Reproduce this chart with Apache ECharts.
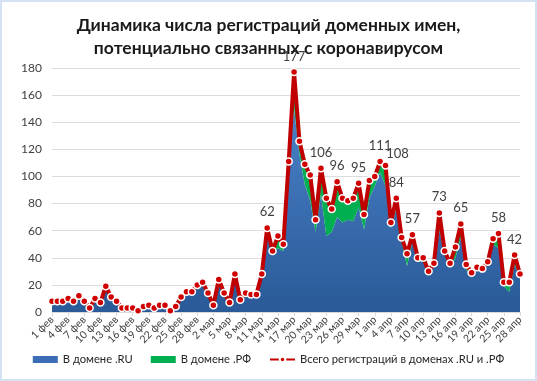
<!DOCTYPE html>
<html><head><meta charset="utf-8">
<script src="https://cdn.jsdelivr.net/npm/echarts@6/dist/echarts.min.js"></script>
<style>
html,body{margin:0;padding:0;background:#fff;}
#wrap{position:absolute;left:0;top:0;width:533px;height:377px;border:2px solid #D5E2F3;}
#c{width:533px;height:377px;}
</style></head>
<body><div id="wrap"><div id="c"></div></div>
<script>
// Categories: daily, 1 Feb – 28 Apr 2020
const months = [["фев", 29], ["мар", 31], ["апр", 28]];
const categories = [];
months.forEach(([m, n]) => { for (let d = 1; d <= n; d++) categories.push(d + " " + m); });

// Total registrations (.RU + .РФ)
const total = [
  8, 8, 8, 10, 8, 12, 8, 3, 10, 7,
  19, 11, 8, 3, 3, 3, 1, 4, 5, 3,
  5, 5, 1, 4, 11, 15, 15, 20, 22, 14,
  5, 24, 14, 7, 28, 9, 14, 13, 13, 28,
  62, 45, 56, 50, 111, 177, 126, 109, 101, 68,
  106, 84, 76, 96, 84, 82, 84, 95, 72, 97,
  100, 111, 108, 66, 84, 55, 43, 57, 40, 40,
  30, 36, 73, 45, 36, 48, 65, 35, 29, 33,
  32, 37, 54, 58, 22, 22, 42, 28
];
// Registrations in .RU
const ru = [
  8, 8, 8, 10, 8, 9, 8, 3, 10, 7,
  19, 11, 8, 3, 3, 3, 1, 4, 5, 3,
  5, 5, 1, 4, 11, 15, 15, 20, 22, 14,
  5, 24, 14, 7, 28, 9, 14, 13, 13, 28,
  61, 44, 47, 45, 105, 150, 116, 94, 82, 59,
  87, 56, 59, 70, 66, 68, 67, 77, 61, 84,
  93, 103, 93, 62, 76, 52, 34, 52, 37, 37,
  28, 34, 60, 43, 33, 40, 55, 31, 27, 31,
  31, 35, 50, 47, 19, 15, 35, 25
];
// Registrations in .РФ
const rf = [
  0, 0, 0, 0, 0, 3, 0, 0, 0, 0,
  0, 0, 0, 0, 0, 0, 0, 0, 0, 0,
  0, 0, 0, 0, 0, 0, 0, 0, 0, 0,
  0, 0, 0, 0, 0, 0, 0, 0, 0, 0,
  1, 1, 9, 5, 6, 27, 10, 15, 19, 9,
  19, 28, 17, 26, 18, 14, 17, 18, 11, 13,
  7, 8, 15, 4, 8, 3, 9, 5, 3, 3,
  2, 2, 13, 2, 3, 8, 10, 4, 2, 2,
  1, 2, 4, 11, 3, 7, 7, 3
];
// Points that carry a value label
const labelled = [40, 45, 50, 53, 57, 61, 62, 64, 67, 72, 76, 83, 86];

const yTicks = {min: 0, max: 180, interval: 20};

const font = "Lato, 'Open Sans', sans-serif";
const chart = echarts.init(document.getElementById('c'), null, {renderer: 'canvas'});

const totalData = total.map((v, i) => {
  if (labelled.indexOf(i) < 0) return v;
  const item = {value: v, label: {show: true}};
  if (i === 62) item.label.offset = [12, 4];
  return item;
});

chart.setOption({
  animation: false,
  textStyle: {fontFamily: font},
  title: {
    text: "Динамика числа регистраций доменных имен,\nпотенциально связанных с коронавирусом",
    left: 'center', top: 7,
    textStyle: {fontSize: 17.5, fontWeight: 'bold', color: '#1a1a1a', lineHeight: 23, fontFamily: font}
  },
  legend: {
    bottom: 9, left: 'center',
    itemGap: 18, itemWidth: 25, itemHeight: 7,
    textStyle: {fontSize: 11.2, color: '#262626', fontFamily: font},
    data: [
      {name: 'В домене .RU', icon: 'rect'},
      {name: 'В домене .РФ', icon: 'rect'},
      {name: 'Всего регистраций в доменах .RU и .РФ'}
    ]
  },
  grid: {left: 50, right: 15, top: 66, bottom: 67, containLabel: false},
  xAxis: {
    type: 'category', data: categories, boundaryGap: false,
    axisLine: {lineStyle: {color: '#D9D9D9'}},
    axisTick: {show: true, interval: 2, alignWithLabel: true, length: 4, lineStyle: {color: '#D9D9D9'}},
    axisLabel: {interval: 2, rotate: 45, fontSize: 10.5, color: '#404040', margin: 6, fontFamily: font},
    splitLine: {show: false}
  },
  yAxis: {
    type: 'value', min: yTicks.min, max: yTicks.max, interval: yTicks.interval,
    axisLine: {show: false}, axisTick: {show: false},
    axisLabel: {fontSize: 12, color: '#404040', margin: 10, fontFamily: font},
    splitLine: {lineStyle: {color: '#DCDCDC', width: 1}}
  },
  series: [
    {
      name: 'В домене .RU', type: 'line', stack: 'a', data: ru,
      symbol: 'none', lineStyle: {width: 0}, itemStyle: {color: '#3A6DB5'},
      areaStyle: {opacity: 1, color: new echarts.graphic.LinearGradient(0, 0, 0, 1, [
        {offset: 0, color: '#4A80C8'}, {offset: 1, color: '#2A5A97'}])}
    },
    {
      name: 'В домене .РФ', type: 'line', stack: 'a', data: rf,
      symbol: 'none', lineStyle: {width: 0}, itemStyle: {color: '#00B050'},
      areaStyle: {opacity: 1, color: '#00B050'}
    },
    {
      name: 'Всего регистраций в доменах .RU и .РФ', type: 'line', data: totalData,
      symbol: 'circle', symbolSize: 7, showAllSymbol: true,
      lineStyle: {width: 4, color: '#C00000'},
      itemStyle: {color: '#D00000', borderColor: '#FFFFFF', borderWidth: 1.5},
      label: {show: false, position: 'top', distance: 5, fontSize: 13, color: '#404040', fontFamily: font},
      z: 5
    }
  ]
});
</script></body></html>
